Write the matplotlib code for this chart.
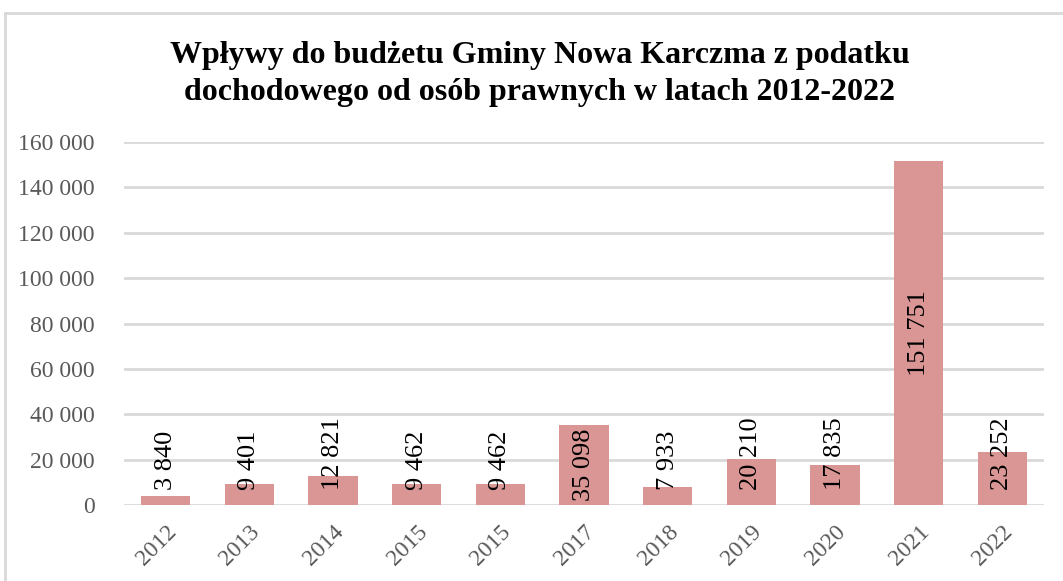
import matplotlib
matplotlib.use("Agg")
import matplotlib.pyplot as plt
from matplotlib.lines import Line2D

years = ["2012", "2013", "2014", "2015", "2015", "2017", "2018", "2019", "2020", "2021", "2022"]
values = [3840, 9401, 12821, 9462, 9462, 35098, 7933, 20210, 17835, 151751, 23252]
yticks = [0, 20000, 40000, 60000, 80000, 100000, 120000, 140000, 160000]

def fmt(v):
    return f"{v:,}".replace(",", " ")

plt.rcParams['font.family'] = ['Liberation Serif', 'DejaVu Serif']

fig = plt.figure(figsize=(10.63, 5.81), dpi=100)
ax = fig.add_axes([124/1063, 1-505/581, 920/1063, (505-142)/581])

x = list(range(len(years)))
ax.bar(x, values, width=0.59, color="#D99694", zorder=2)
ax.set_xlim(-0.5, len(years) - 0.5)
ax.set_ylim(0, 160000)
ax.set_yticks(yticks)
ax.set_yticklabels([fmt(t) for t in yticks], color="#595959", fontsize=17)
ax.set_xticks(x)
ax.set_xticklabels(years, rotation=45, ha="right", va="top", rotation_mode="anchor",
                   color="#595959", fontsize=17)
ax.tick_params(axis="both", length=0)
ax.tick_params(axis="y", pad=21)
ax.tick_params(axis="x", pad=12)
ax.yaxis.grid(True, color="#D9D9D9", linewidth=2, zorder=0)
ax.set_axisbelow(True)
for s in ax.spines.values():
    s.set_visible(False)

for xi, v in zip(x, values):
    if v > 33000:
        ax.text(xi, v / 2, fmt(v), rotation=90, ha="center", va="center", fontsize=19, color="black", zorder=3)
    else:
        ax.text(xi, 6700, fmt(v), rotation=90, ha="center", va="bottom", fontsize=19, color="black", zorder=3)

fig.text(540/1063, 1-74/581, "Wpływy do budżetu Gminy Nowa Karczma z podatku\ndochodowego od osób prawnych w latach 2012-2022",
         ha="center", va="center", fontsize=23, fontweight="bold", linespacing=1.4)

fig.add_artist(Line2D([5/1063, 1], [1-13/581, 1-13/581], transform=fig.transFigure, color="#D9D9D9", linewidth=2))
fig.add_artist(Line2D([5/1063, 5/1063], [0, 1-13/581], transform=fig.transFigure, color="#D9D9D9", linewidth=2))

fig.savefig("out.png", dpi=100)
